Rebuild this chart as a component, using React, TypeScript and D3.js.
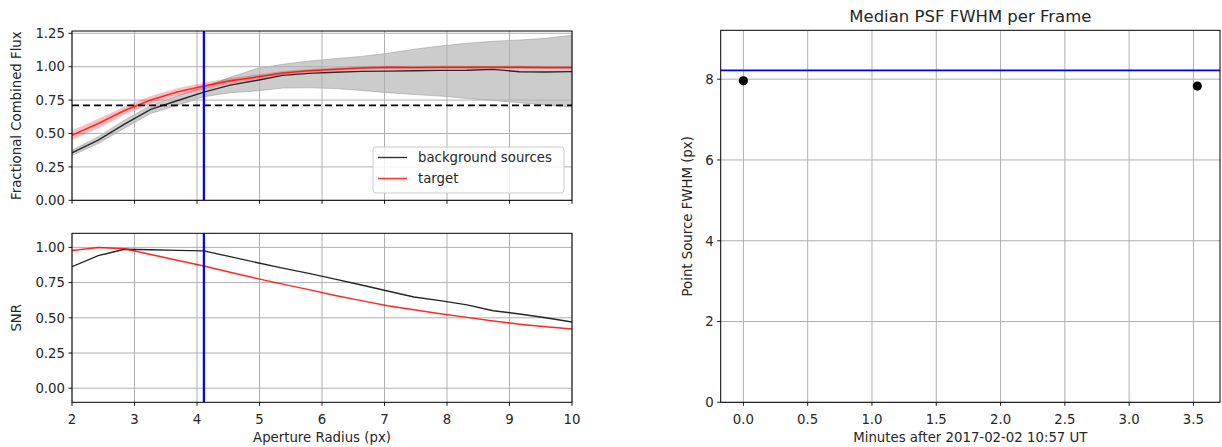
import * as d3 from "d3";

// aperture radii sampled (px)
const radii = [2.0, 2.42, 2.84, 3.26, 3.68, 4.11, 4.53, 4.95, 5.37, 5.79, 6.21, 6.63, 7.05, 7.47, 7.89, 8.32, 8.74, 9.16, 9.58, 10.0];

// fractional combined flux
const bgFlux = [0.355, 0.45, 0.57, 0.68, 0.745, 0.81, 0.862, 0.897, 0.935, 0.95, 0.958, 0.965, 0.967, 0.97, 0.972, 0.973, 0.98, 0.962, 0.96, 0.963];
const bgFluxLo = [0.335, 0.425, 0.54, 0.65, 0.71, 0.775, 0.805, 0.818, 0.84, 0.842, 0.836, 0.822, 0.805, 0.792, 0.78, 0.762, 0.747, 0.73, 0.712, 0.698];
const bgFluxHi = [0.375, 0.475, 0.6, 0.71, 0.78, 0.85, 0.92, 0.985, 1.018, 1.042, 1.06, 1.077, 1.1, 1.13, 1.155, 1.175, 1.19, 1.2, 1.212, 1.235];
const tgtFlux = [0.487, 0.575, 0.672, 0.75, 0.81, 0.855, 0.895, 0.922, 0.952, 0.97, 0.98, 0.99, 0.995, 0.993, 0.995, 0.995, 0.995, 0.995, 0.994, 0.993];
const tgtFluxLo = [0.452, 0.54, 0.642, 0.72, 0.782, 0.83, 0.875, 0.904, 0.937, 0.957, 0.968, 0.978, 0.983, 0.981, 0.983, 0.983, 0.983, 0.983, 0.982, 0.981];
const tgtFluxHi = [0.522, 0.61, 0.702, 0.78, 0.838, 0.88, 0.915, 0.94, 0.967, 0.983, 0.992, 1.002, 1.007, 1.005, 1.007, 1.007, 1.007, 1.007, 1.006, 1.005];
const fluxThreshold = 0.71;
const chosenRadius = 4.11;

// normalised SNR
const snrBg = [0.863, 0.941, 0.987, 0.983, 0.979, 0.975, 0.934, 0.893, 0.853, 0.815, 0.775, 0.733, 0.69, 0.648, 0.622, 0.592, 0.55, 0.527, 0.5, 0.47];
const snrTgt = [0.977, 1.0, 0.991, 0.95, 0.909, 0.868, 0.824, 0.78, 0.739, 0.7, 0.659, 0.622, 0.586, 0.557, 0.529, 0.503, 0.478, 0.455, 0.436, 0.42];

// PSF FWHM per frame
const frameMinutes = [0.0, 3.53];
const frameFwhm = [7.96, 7.83];
const medianFwhm = 8.22;

const fluxTicks = [0, 0.25, 0.5, 0.75, 1.0, 1.25];
const snrTicks = [0, 0.25, 0.5, 0.75, 1.0];
const radiusTicks = [2, 3, 4, 5, 6, 7, 8, 9, 10];
const minuteTicks = [0, 0.5, 1.0, 1.5, 2.0, 2.5, 3.0, 3.5];
const fwhmTicks = [0, 2, 4, 6, 8];

const FONT = "DejaVu Sans, sans-serif";
const GRID = "#b0b0b0";
const TXT = "#262626";
const FS = 13.3;

type Lin = d3.ScaleLinear<number, number>;

function Frame({ x, y, x0, x1, y0, y1, xt, yt, xfmt, yfmt, showXLabels }: {
  x: Lin; y: Lin; x0: number; x1: number; y0: number; y1: number;
  xt: number[]; yt: number[]; xfmt: (v: number) => string; yfmt: (v: number) => string; showXLabels: boolean;
}) {
  return (
    <g>
      {xt.map((t) => (
        <g key={"x" + t}>
          <line x1={x(t)} x2={x(t)} y1={y0} y2={y1} stroke={GRID} strokeWidth={1} />
          {showXLabels && (
            <text x={x(t)} y={y1 + 21.5} textAnchor="middle" fontSize={FS} fill={TXT}>{xfmt(t)}</text>
          )}
        </g>
      ))}
      {yt.map((t) => (
        <g key={"y" + t}>
          <line x1={x0} x2={x1} y1={y(t)} y2={y(t)} stroke={GRID} strokeWidth={1} />
          <text x={x0 - 7} y={y(t) + 4.8} textAnchor="end" fontSize={FS} fill={TXT}>{yfmt(t)}</text>
        </g>
      ))}
    </g>
  );
}

function TickMarks({ x, y, x0, y1, xt, yt }: { x: Lin; y: Lin; x0: number; y1: number; xt: number[]; yt: number[] }) {
  return (
    <g stroke="#000" strokeWidth={0.9}>
      {xt.map((t) => <line key={"a" + t} x1={x(t)} x2={x(t)} y1={y1} y2={y1 + 3.5} />)}
      {yt.map((t) => <line key={"b" + t} x1={x0 - 3.5} x2={x0} y1={y(t)} y2={y(t)} />)}
    </g>
  );
}

export default function App() {
  // left panels
  const L = 72, R = 572;
  const topT = 31, topB = 200.3;
  const botT = 233.3, botB = 402.3;
  const xr = d3.scaleLinear().domain([2, 10]).range([L, R]);
  const yFlux = d3.scaleLinear().domain([0, 1.267]).range([topB, topT]);
  const ySnr = d3.scaleLinear().domain([-0.1, 1.1]).range([botB, botT]);

  // right panel
  const RL = 720.7, RR = 1220, RT = 30.3, RB = 402.3;
  const xm = d3.scaleLinear().domain([-0.1765, 3.7065]).range([RL, RR]);
  const yf = d3.scaleLinear().domain([0, 9.21]).range([RB, RT]);

  const idx = radii.map((_, i) => i);
  const lineOf = (ys: number[], yS: Lin) =>
    d3.line<number>().x((i) => xr(radii[i])).y((i) => yS(ys[i]))(idx) || "";
  const bandOf = (lo: number[], hi: number[], yS: Lin) =>
    d3.area<number>().x((i) => xr(radii[i])).y0((i) => yS(lo[i])).y1((i) => yS(hi[i]))(idx) || "";

  const f2 = d3.format(".2f");
  const f1 = d3.format(".1f");
  const f0 = d3.format("d");

  return (
    <div>
      <style>{`body{margin:0}`}</style>
      <svg width={1222} height={447} style={{ display: "block", fontFamily: FONT }}>
        <rect width={1222} height={447} fill="#fff" />

        <defs>
          <clipPath id="clipTop"><rect x={L} y={topT} width={R - L} height={topB - topT} /></clipPath>
          <clipPath id="clipBot"><rect x={L} y={botT} width={R - L} height={botB - botT} /></clipPath>
        </defs>

        {/* top-left: fractional flux */}
        <g clipPath="url(#clipTop)">
          <path d={bandOf(bgFluxLo, bgFluxHi, yFlux)} fill="#808080" fillOpacity={0.4} stroke="#808080" strokeOpacity={0.4} strokeWidth={1} />
        </g>
        <Frame x={xr} y={yFlux} x0={L} x1={R} y0={topT} y1={topB} xt={radiusTicks} yt={fluxTicks} xfmt={f0} yfmt={f2} showXLabels={false} />
        <g clipPath="url(#clipTop)">
          <path d={lineOf(bgFlux, yFlux)} fill="none" stroke="#000" strokeOpacity={0.8} strokeWidth={1.4} />
          <path d={bandOf(tgtFluxLo, tgtFluxHi, yFlux)} fill="#ff0000" fillOpacity={0.25} stroke="none" />
          <path d={lineOf(tgtFlux, yFlux)} fill="none" stroke="#ff0000" strokeOpacity={0.8} strokeWidth={1.5} />
          <line x1={L} x2={R} y1={yFlux(fluxThreshold)} y2={yFlux(fluxThreshold)} stroke="#000" strokeWidth={1.8} strokeDasharray="7,4" />
          <line x1={xr(chosenRadius)} x2={xr(chosenRadius)} y1={topT} y2={topB} stroke="#0000ff" strokeWidth={2.2} />
        </g>
        <rect x={L} y={topT} width={R - L} height={topB - topT} fill="none" stroke="#000" strokeWidth={1} />
        <TickMarks x={xr} y={yFlux} x0={L} y1={topB} xt={radiusTicks} yt={fluxTicks} />
        <text transform={`translate(21,${(topT + topB) / 2}) rotate(-90)`} textAnchor="middle" fontSize={FS} fill={TXT}>Fractional Combined Flux</text>

        {/* legend */}
        <g>
          <rect x={373} y={147} width={191} height={46} rx={3} fill="#fff" fillOpacity={0.8} stroke="#cccccc" strokeWidth={1} />
          <line x1={378} x2={407} y1={157.5} y2={157.5} stroke="#000" strokeOpacity={0.8} strokeWidth={1.4} />
          <text x={418} y={162.3} fontSize={FS} fill={TXT}>background sources</text>
          <line x1={378} x2={407} y1={178.5} y2={178.5} stroke="#ff0000" strokeOpacity={0.8} strokeWidth={1.5} />
          <text x={418} y={183.3} fontSize={FS} fill={TXT}>target</text>
        </g>

        {/* bottom-left: SNR */}
        <Frame x={xr} y={ySnr} x0={L} x1={R} y0={botT} y1={botB} xt={radiusTicks} yt={snrTicks} xfmt={f0} yfmt={f2} showXLabels={true} />
        <g clipPath="url(#clipBot)">
          <path d={lineOf(snrBg, ySnr)} fill="none" stroke="#000" strokeOpacity={0.85} strokeWidth={1.4} />
          <path d={lineOf(snrTgt, ySnr)} fill="none" stroke="#ff0000" strokeOpacity={0.85} strokeWidth={1.5} />
          <line x1={xr(chosenRadius)} x2={xr(chosenRadius)} y1={botT} y2={botB} stroke="#0000ff" strokeWidth={2.2} />
        </g>
        <rect x={L} y={botT} width={R - L} height={botB - botT} fill="none" stroke="#000" strokeWidth={1} />
        <TickMarks x={xr} y={ySnr} x0={L} y1={botB} xt={radiusTicks} yt={snrTicks} />
        <text transform={`translate(21,${(botT + botB) / 2}) rotate(-90)`} textAnchor="middle" fontSize={FS} fill={TXT}>SNR</text>
        <text x={(L + R) / 2} y={441.5} textAnchor="middle" fontSize={FS} fill={TXT}>Aperture Radius (px)</text>

        {/* right: FWHM per frame */}
        <Frame x={xm} y={yf} x0={RL} x1={RR} y0={RT} y1={RB} xt={minuteTicks} yt={fwhmTicks} xfmt={f1} yfmt={f0} showXLabels={true} />
        <line x1={RL} x2={RR} y1={yf(medianFwhm)} y2={yf(medianFwhm)} stroke="#0000ff" strokeWidth={1.8} />
        {frameMinutes.map((m, i) => (
          <circle key={i} cx={xm(m)} cy={yf(frameFwhm[i])} r={4.6} fill="#000" />
        ))}
        <rect x={RL} y={RT} width={RR - RL} height={RB - RT} fill="none" stroke="#000" strokeWidth={1} />
        <TickMarks x={xm} y={yf} x0={RL} y1={RB} xt={minuteTicks} yt={fwhmTicks} />
        <text transform={`translate(692,${(RT + RB) / 2}) rotate(-90)`} textAnchor="middle" fontSize={FS} fill={TXT}>Point Source FWHM (px)</text>
        <text x={(RL + RR) / 2} y={441.5} textAnchor="middle" fontSize={FS} fill={TXT}>Minutes after 2017-02-02 10:57 UT</text>
        <text x={(RL + RR) / 2} y={21.5} textAnchor="middle" fontSize={16.5} fill={TXT}>Median PSF FWHM per Frame</text>
      </svg>
    </div>
  );
}
